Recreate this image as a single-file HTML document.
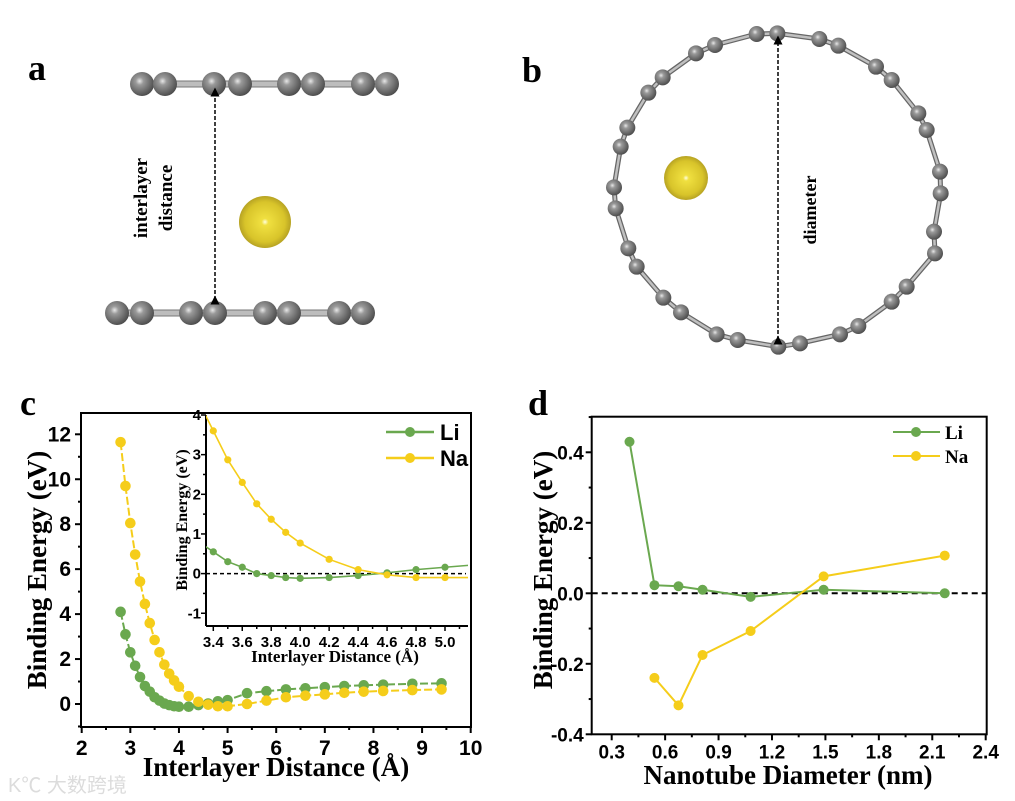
<!DOCTYPE html>
<html><head><meta charset="utf-8"><style>
html,body{margin:0;padding:0;background:#fff;}
svg{display:block;}
.serif{font-family:"Liberation Serif",serif;font-weight:bold;}
.sans{font-family:"Liberation Sans",sans-serif;font-weight:bold;}
</style></head><body>
<svg id="fig" width="1015" height="801" viewBox="0 0 1015 801" xmlns="http://www.w3.org/2000/svg">
<defs>
<radialGradient id="gC" cx="0.4" cy="0.38" r="0.65"><stop offset="0" stop-color="#e8e8e8"/><stop offset="0.25" stop-color="#9a9a9a"/><stop offset="1" stop-color="#4a4a4a"/></radialGradient>
<radialGradient id="gNa" cx="0.5" cy="0.5" r="0.55"><stop offset="0" stop-color="#ffffe0"/><stop offset="0.12" stop-color="#f0e040"/><stop offset="0.7" stop-color="#d8c42a"/><stop offset="1" stop-color="#a89420"/></radialGradient>
<marker id="ah" markerWidth="6" markerHeight="6" refX="3" refY="3" orient="auto"><path d="M0,0 L6,3 L0,6 z" fill="#000"/></marker>
<clipPath id="clipInset"><rect x="206" y="415" width="262" height="211"/></clipPath>
<clipPath id="clipC"><rect x="81" y="413" width="390" height="314"/></clipPath>
</defs>
<g id="panelA"></g>
<g id="panelB"></g>
<g id="panelC"></g>
<g id="panelD"></g>
<text x="8" y="792" font-family="'Liberation Sans','Noto Sans CJK SC',sans-serif" font-size="20" fill="#dcdcdc">K℃ 大数跨境</text>
</svg>
<script>
// ---- Panel c data ----
const cX = [2.8,2.9,3.0,3.1,3.2,3.3,3.4,3.5,3.6,3.7,3.8,3.9,4.0,4.2,4.4,4.6,4.8,5.0,5.4,5.8,6.2,6.6,7.0,7.4,7.8,8.2,8.8,9.4];
const cLi = [4.1,3.1,2.3,1.7,1.2,0.8,0.55,0.3,0.15,0.02,-0.05,-0.1,-0.12,-0.12,-0.05,0.02,0.12,0.17,0.48,0.57,0.65,0.7,0.75,0.8,0.83,0.86,0.9,0.92];
const cNa = [11.65,9.7,8.05,6.65,5.45,4.45,3.6,2.85,2.3,1.75,1.35,1.05,0.77,0.35,0.1,-0.03,-0.1,-0.1,0.0,0.15,0.3,0.37,0.43,0.5,0.55,0.58,0.62,0.65];
const cXTicks = [2,3,4,5,6,7,8,9,10];
const cYTicks = [0,2,4,6,8,10,12];
const insX = [3.4,3.5,3.6,3.7,3.8,3.9,4.0,4.2,4.4,4.6,4.8,5.0];
const insLi = [0.55,0.3,0.16,0.0,-0.05,-0.1,-0.12,-0.1,-0.05,0.02,0.1,0.16];
const insNa = [3.6,2.87,2.3,1.76,1.37,1.04,0.77,0.36,0.1,-0.03,-0.1,-0.1];
const insXTicks = [3.4,3.6,3.8,4.0,4.2,4.4,4.6,4.8,5.0];
const insYTicks = [-1,0,1,2,3,4];
// ---- Panel d data ----
const dX = [0.40,0.54,0.675,0.81,1.08,1.49,2.17];
const dLi = [0.43,0.023,0.02,0.01,-0.01,0.01,0.0];
const dXNa = [0.54,0.675,0.81,1.08,1.49,2.17];
const dNa = [-0.24,-0.318,-0.175,-0.107,0.048,0.107];
const dXTicks = [0.3,0.6,0.9,1.2,1.5,1.8,2.1,2.4];
const dYTicks = [-0.4,-0.2,0.0,0.2,0.4];

const NS="http://www.w3.org/2000/svg";
const GREEN="#6aa84f", YELLOW="#f5cd1a";
function mk(parent,tag,attrs,txt){const e=document.createElementNS(NS,tag);for(const k in attrs)e.setAttribute(k,attrs[k]);if(txt!==undefined)e.textContent=txt;parent.appendChild(e);return e;}
function lin(d0,d1,p0,p1){return v=>p0+(v-d0)*(p1-p0)/(d1-d0);}

// ---- Panel a ----
const A=document.getElementById('panelA');
let t=mk(A,'text',{x:28,y:80,'font-size':36,class:'serif'},'a');


const topX=[142,165,214,240,289,313,363,387], botX=[117,142,191,215,265,289,339,363];
[[topX,84],[botX,313]].forEach(([xs,y],li)=>{
  const g=mk(A,'g',{});
  
  
  mk(g,'rect',{x:xs[0],y:y-3,width:xs[xs.length-1]-xs[0],height:6,fill:'#bdbdbd',stroke:'#777','stroke-width':1});
  xs.forEach(x=>mk(g,'circle',{cx:x,cy:y,r:12,fill:'url(#gC)'}));
});
let na=mk(A,'circle',{cx:265,cy:222,r:26,fill:'url(#gNa)'});


let ar=mk(A,'line',{x1:215,y1:300,x2:215,y2:92,stroke:'#000','stroke-width':1.5,'stroke-dasharray':'4,2','marker-end':'url(#ah)','marker-start':'url(#ah)'});


t=mk(A,'text',{x:0,y:0,'font-size':19,class:'serif','text-anchor':'middle',transform:'translate(147,198) rotate(-90)'},'interlayer');


t=mk(A,'text',{x:0,y:0,'font-size':19,class:'serif','text-anchor':'middle',transform:'translate(172,198) rotate(-90)'},'distance');



// ---- Panel b ----
const B=document.getElementById('panelB');
t=mk(B,'text',{x:522,y:82,'font-size':36,class:'serif'},'b');


const ring=[[832,100],[770,102],[645,135],[588,160],[488,232],[445,278],[382,383],[362,440],[342,562],[347,625],[385,745],[410,800],[490,893],[543,937],[650,1003],[713,1020],[835,1040],[900,1030],[1020,1003],[1075,978],[1175,905],[1220,860],[1305,760],[1302,695],[1322,580],[1320,515],[1280,390],[1255,340],[1175,240],[1128,200],[1015,137],[958,117]].map(p=>[500+p[0]/3,p[1]/3]);
const rg=mk(B,'g',{});


ring.forEach((p,i)=>{const q=ring[(i+1)%ring.length];mk(rg,'line',{x1:p[0],y1:p[1],x2:q[0],y2:q[1],stroke:'#666','stroke-width':5});mk(rg,'line',{x1:p[0],y1:p[1],x2:q[0],y2:q[1],stroke:'#c0c0c0','stroke-width':2.5});});
ring.forEach(p=>mk(rg,'circle',{cx:p[0],cy:p[1],r:8,fill:'url(#gC)'}));
na=mk(B,'circle',{cx:686,cy:178,r:22,fill:'url(#gNa)'});


ar=mk(B,'line',{x1:778,y1:340,x2:778,y2:40,stroke:'#000','stroke-width':1.5,'stroke-dasharray':'4,2','marker-end':'url(#ah)','marker-start':'url(#ah)'});


t=mk(B,'text',{x:0,y:0,'font-size':18,class:'serif','text-anchor':'middle',transform:'translate(816,210) rotate(-90)'},'diameter');



// ---- Panel c ----
const C=document.getElementById('panelC');
t=mk(C,'text',{x:20,y:415,'font-size':36,class:'serif'},'c');


const cx=lin(2,10,81.7,470.7), cy=lin(0,12,704,434.3);
const cL=81,cR=471,cT=413,cB=727;
let fr=mk(C,'rect',{x:cL,y:cT,width:cR-cL,height:cB-cT,fill:'none',stroke:'#000','stroke-width':2});


for(let v=2;v<=10;v+=0.5){const x=cx(v),maj=Number.isInteger(v);mk(C,'line',{x1:x,y1:cB,x2:x,y2:cB+(maj?6:3),stroke:'#000','stroke-width':2});}
cXTicks.forEach(v=>{const e=mk(C,'text',{x:cx(v),y:cB+28,'font-size':21,class:'sans','text-anchor':'middle'},String(v));

});
for(let v=-1;v<=12;v+=1){const y=cy(v),maj=v%2===0;mk(C,'line',{x1:cL,y1:y,x2:cL-(maj?6:3),y2:y,stroke:'#000','stroke-width':2});}
cYTicks.forEach(v=>{const e=mk(C,'text',{x:cL-10,y:cy(v)+7,'font-size':21,class:'sans','text-anchor':'end'},String(v));

});
t=mk(C,'text',{x:0,y:0,'font-size':27,class:'serif','text-anchor':'middle',transform:'translate(46,570) rotate(-90)'},'Binding Energy (eV)');


t=mk(C,'text',{x:276,y:776,'font-size':27,class:'serif','text-anchor':'middle'},'Interlayer Distance (Å)');


function series(parent,xs,ys,fx,fy,col,r,dash,name,clip){
  const g=mk(parent,'g',clip?{'clip-path':clip}:{});
  
  
  mk(g,'polyline',{points:xs.map((x,i)=>fx(x)+','+fy(ys[i])).join(' '),fill:'none',stroke:col,'stroke-width':2,'stroke-dasharray':dash||'none'});
  xs.forEach((x,i)=>{const c=mk(g,'circle',{cx:fx(x),cy:fy(ys[i]),r:r,fill:col});
  
  });
  return g;
}
series(C,cX,cLi,cx,cy,GREEN,5.3,'8,3','series-li-c','url(#clipC)');
series(C,cX,cNa,cx,cy,YELLOW,5.3,'8,3','series-na-c','url(#clipC)');
// inset
const ix=lin(3.4,5.0,213.3,445), iy=lin(0,4,573.6,415);
const iL=206,iR=468,iT=415,iB=626;
const ins=mk(C,'g',{});


mk(ins,'rect',{x:iL,y:iT,width:iR-iL,height:iB-iT,fill:'#fff'});
mk(ins,'line',{x1:iL,y1:iT,x2:iL,y2:iB,stroke:'#000','stroke-width':2});
mk(ins,'line',{x1:iL,y1:iB,x2:iR,y2:iB,stroke:'#000','stroke-width':2});
let zl=mk(ins,'line',{x1:iL,y1:iy(0),x2:iR-2,y2:iy(0),stroke:'#000','stroke-width':1.5,'stroke-dasharray':'4,3'});


for(let v=3.4;v<=5.11;v+=0.1){const x=ix(v);const maj=Math.round(v*10)%2===0;mk(ins,'line',{x1:x,y1:iB,x2:x,y2:iB+(maj?5:3),stroke:'#000','stroke-width':1.5});}
insXTicks.forEach(v=>{const e=mk(ins,'text',{x:ix(v),y:iB+21,'font-size':15,class:'sans','text-anchor':'middle'},v.toFixed(1));

});
for(let v=-1;v<=4;v+=0.5){const y=iy(v);const maj=Number.isInteger(v);mk(ins,'line',{x1:iL,y1:y,x2:iL-(maj?5:3),y2:y,stroke:'#000','stroke-width':1.5});}
insYTicks.forEach(v=>{const e=mk(ins,'text',{x:iL-5,y:iy(v)+5,'font-size':15,class:'sans','text-anchor':'end'},String(v));

});
t=mk(ins,'text',{x:0,y:0,'font-size':16,class:'serif','text-anchor':'middle',transform:'translate(187,520) rotate(-90)'},'Binding Energy (eV)');


t=mk(ins,'text',{x:335,y:662,'font-size':17,class:'serif','text-anchor':'middle'},'Interlayer Distance (Å)');


function ext(xs,ys){const n=xs.length;const x0=3.3,x1=5.2;
 const y0=ys[0]+(ys[0]-ys[1])*(xs[0]-x0)/(xs[1]-xs[0]);const y1=ys[n-1]+(ys[n-1]-ys[n-2])*(x1-xs[n-1])/(xs[n-1]-xs[n-2]);
 return [[x0].concat(xs,[x1]),[y0].concat(ys,[y1])];}
[[insLi,GREEN,'inset-series-li'],[insNa,YELLOW,'inset-series-na']].forEach(([ys,col,nm])=>{
 const g=mk(ins,'g',{'clip-path':'url(#clipInset)'});
 
 
 const [ex,ey]=ext(insX,ys);
 mk(g,'polyline',{points:ex.map((x,i)=>ix(x)+','+iy(ey[i])).join(' '),fill:'none',stroke:col,'stroke-width':1.6});
 insX.forEach((x,i)=>{const c=mk(g,'circle',{cx:ix(x),cy:iy(ys[i]),r:3.6,fill:col});
 
 });
});
// legend c
[[GREEN,'Li',432],[YELLOW,'Na',458]].forEach(([col,lab,y])=>{
 const g=mk(C,'g',{});
 
 
 mk(g,'line',{x1:386,y1:y,x2:434,y2:y,stroke:col,'stroke-width':2.5});
 mk(g,'circle',{cx:410,cy:y,r:5,fill:col});
 mk(g,'text',{x:440,y:y+8,'font-size':22,class:'sans'},lab);
});

// ---- Panel d ----
const D=document.getElementById('panelD');
t=mk(D,'text',{x:528,y:415,'font-size':36,class:'serif'},'d');


const dx=lin(0.3,2.4,611.7,985.7), dy=lin(0,0.4,593.3,452.3);
const dL=591.7,dR=986.7,dT=416.7,dB=734.3;
fr=mk(D,'rect',{x:dL,y:dT,width:dR-dL,height:dB-dT,fill:'none',stroke:'#000','stroke-width':2});


for(let k=2;k<=16;k++){const v=k*0.15;const x=dx(v);if(x<dL-0.5)continue;const maj=k%2===0;mk(D,'line',{x1:x,y1:dB,x2:x,y2:dB+(maj?6:3),stroke:'#000','stroke-width':2});}
dXTicks.forEach(v=>{const e=mk(D,'text',{x:dx(v),y:dB+24,'font-size':19,class:'sans','text-anchor':'middle'},v.toFixed(1));

});
for(let k=-4;k<=5;k++){const y=dy(k*0.1);const maj=k%2===0;mk(D,'line',{x1:dL,y1:y,x2:dL-(maj?6:3),y2:y,stroke:'#000','stroke-width':2});}
dYTicks.forEach(v=>{const e=mk(D,'text',{x:dL-8,y:dy(v)+7,'font-size':19,class:'sans','text-anchor':'end'},v.toFixed(1));

});
zl=mk(D,'line',{x1:dL,y1:dy(0),x2:dR,y2:dy(0),stroke:'#000','stroke-width':2,'stroke-dasharray':'6,4'});


t=mk(D,'text',{x:0,y:0,'font-size':27,class:'serif','text-anchor':'middle',transform:'translate(552,570) rotate(-90)'},'Binding Energy (eV)');


t=mk(D,'text',{x:788,y:784,'font-size':27,class:'serif','text-anchor':'middle'},'Nanotube Diameter (nm)');


series(D,dX,dLi,dx,dy,GREEN,5,null,'series-li-d');
series(D,dXNa,dNa,dx,dy,YELLOW,5,null,'series-na-d');
[[GREEN,'Li',432],[YELLOW,'Na',456]].forEach(([col,lab,y])=>{
 const g=mk(D,'g',{});
 
 
 mk(g,'line',{x1:893,y1:y,x2:940,y2:y,stroke:col,'stroke-width':2});
 mk(g,'circle',{cx:916,cy:y,r:5,fill:col});
 mk(g,'text',{x:945,y:y+7,'font-size':19,class:'serif'},lab);
});
</script>
</body></html>
